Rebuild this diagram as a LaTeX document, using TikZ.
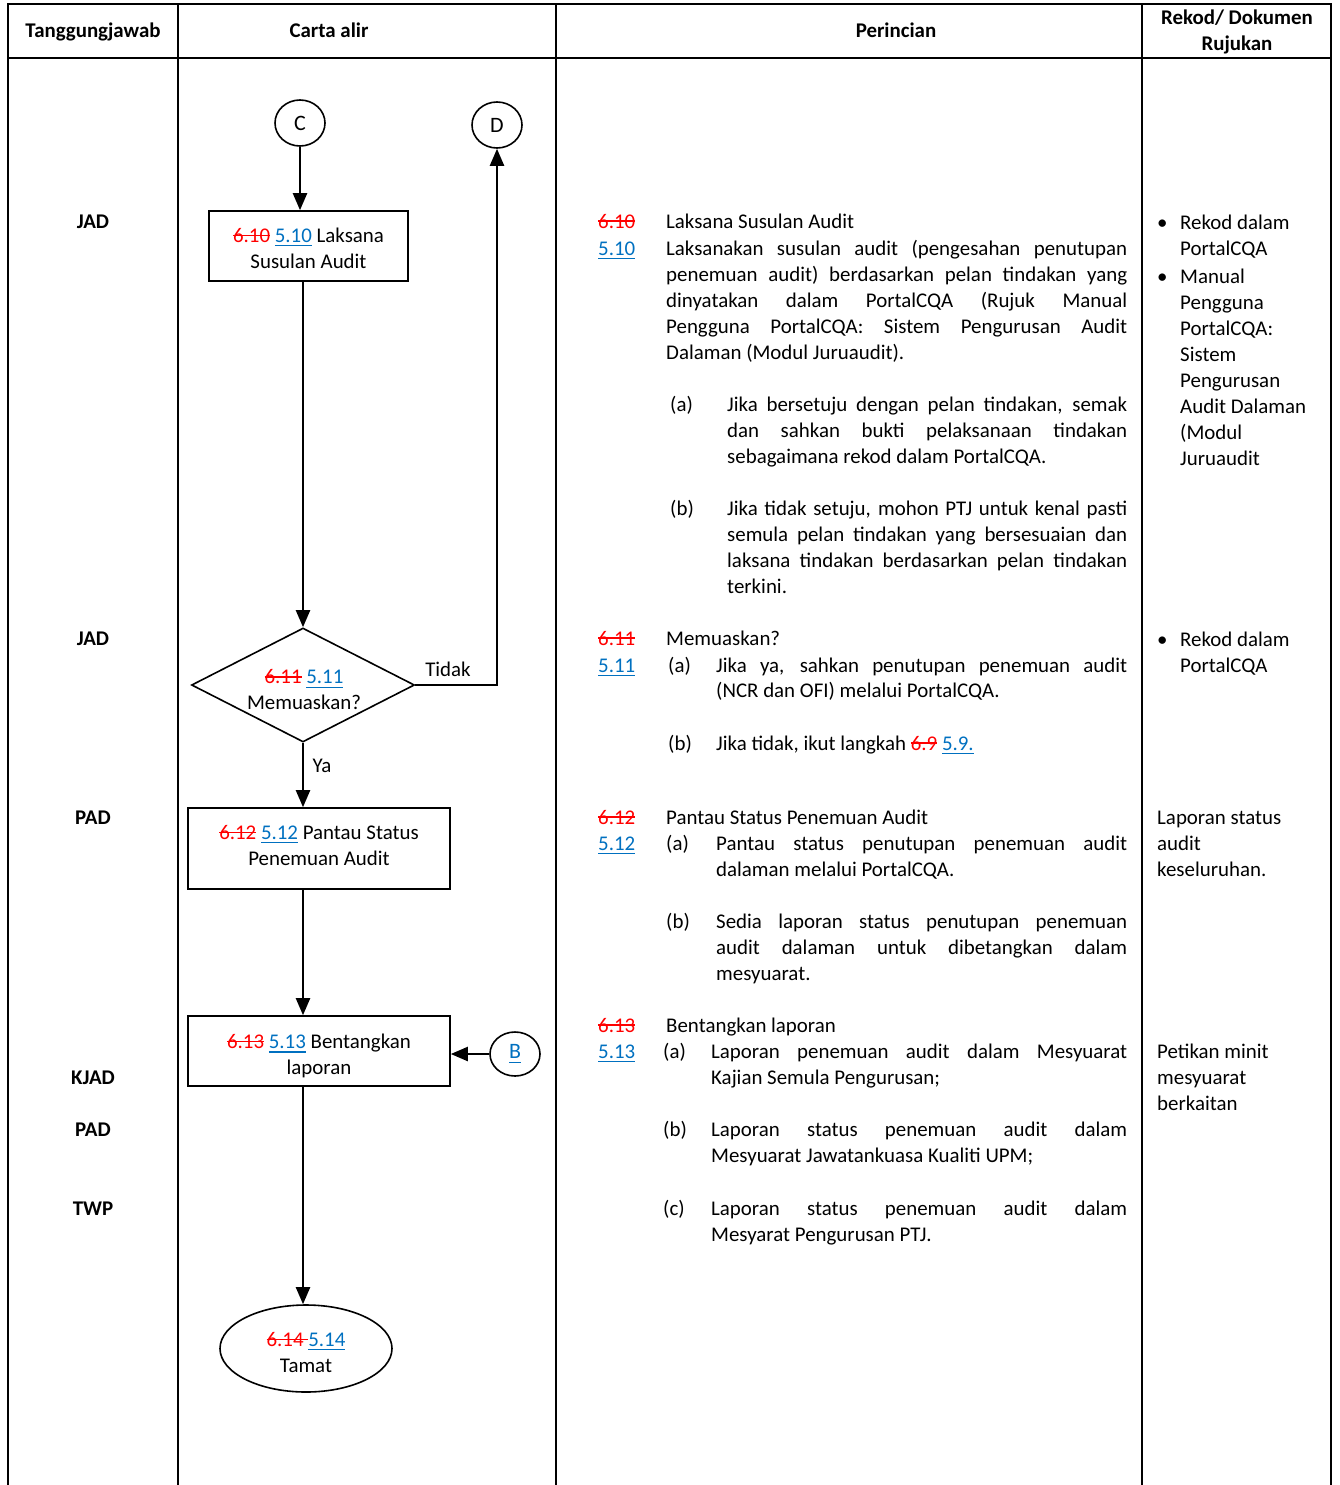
\documentclass[tikz,border=0pt]{standalone}
\usepackage{fontspec}
\setmainfont{Carlito}
\usetikzlibrary{shapes.geometric,arrows.meta}
\definecolor{strkred}{HTML}{FF0000}
\definecolor{lnkblue}{HTML}{0070C0}
\newcommand\odnum[1]{\textcolor{strkred}{\setbox0\hbox{#1}\rlap{\rule[0.3em]{\wd0}{1.4pt}}\box0}}
\newcommand\nwnum[1]{\textcolor{lnkblue}{\setbox0\hbox{#1}\rlap{\rule[-0.19em]{\wd0}{1.4pt}}\box0}}
\newcommand\TL[4]{\node[txt] (#1) at (#2,#3+7) {#4};}
\newcommand\JL[5]{\node[txt] (#1) at (#2,#3+7) {\makebox[#4pt][s]{#5}};}
\newcommand\HD[4]{\node[hd] (#1) at (#2,#3+7) {#4};}
\begin{document}
\begin{tikzpicture}[x=1pt,y=-1pt,
  every node/.style={font=\fontsize{20.9pt}{26pt}\selectfont},
  txt/.style={anchor=base west, inner sep=0pt},
  hd/.style={anchor=base, inner sep=0pt, font=\fontsize{20.9pt}{26pt}\selectfont\bfseries},
  fbox/.style={draw, line width=1.6pt, rectangle, inner sep=0pt},
  ftext/.style={align=center, inner sep=0pt},
  conn/.style={line width=2.2pt, -{Triangle[length=17pt,width=14pt]}},
  gridline/.style={line width=2pt}]
\useasboundingbox (0,0) rectangle (1339,1485);
% table grid
\draw[gridline] (8,1485) -- (8,4) -- (1331,4) -- (1331,1485);
\draw[gridline] (8,58) -- (1331,58);
\draw[gridline] (178,4) -- (178,1485);
\draw[gridline] (556,4) -- (556,1485);
\draw[gridline] (1142,4) -- (1142,1485);
% header
\HD{h1}{93}{31}{Tanggungjawab}
\HD{h2}{329}{31}{Carta alir}
\HD{h3}{896}{31}{Perincian}
\HD{h4}{1237}{18}{Rekod/ Dokumen}
\HD{h5}{1237}{44}{Rujukan}
% responsibility
\HD{r1}{93}{221}{JAD}
\HD{r2}{93}{638}{JAD}
\HD{r3}{93}{817}{PAD}
\HD{r4}{93}{1077}{KJAD}
\HD{r5}{93}{1129}{PAD}
\HD{r6}{93}{1208}{TWP}
% flowchart shapes
\node[draw, line width=1.6pt, ellipse, minimum width=50pt, minimum height=46pt, inner sep=0pt, font=\fontsize{22pt}{26pt}\selectfont] (C) at (300,123) {C};
\node[draw, line width=1.6pt, ellipse, minimum width=50pt, minimum height=46pt, inner sep=0pt, font=\fontsize{22pt}{26pt}\selectfont] (D) at (497,125) {D};
\node[fbox, minimum width=199pt, minimum height=70pt] (b510) at (308.5,246) {};
\node[ftext] (b510t) at (308.5,248) {\odnum{6.10} \nwnum{5.10} Laksana\\Susulan Audit};
\node[draw, line width=1.6pt, diamond, aspect=1.956, minimum width=223pt, minimum height=114pt, inner sep=0pt] (dia) at (303,685) {};
\node[ftext] (diat) at (304,690) {\odnum{6.11} \nwnum{5.11}\\Memuaskan?};
\node[fbox, minimum width=262pt, minimum height=81pt] (b512) at (319,848.5) {};
\node[ftext] (b512t) at (319,845.5) {\odnum{6.12} \nwnum{5.12} Pantau Status\\Penemuan Audit};
\node[fbox, minimum width=262pt, minimum height=70pt] (b513) at (319,1051) {};
\node[ftext] (b513t) at (319,1056) {\odnum{6.13} \nwnum{5.13} Bentangkan\\laporan};
\node[draw, line width=1.6pt, ellipse, minimum width=50pt, minimum height=44pt, inner sep=0pt, font=\fontsize{22pt}{26pt}\selectfont] (B) at (515,1054) {\nwnum{B}};
\node[draw, line width=1.6pt, ellipse, minimum width=172pt, minimum height=87pt, inner sep=0pt] (end) at (306,1348.5) {};
\node[ftext] (endt) at (306,1352.5) {\odnum{6.14 }\nwnum{5.14}\\Tamat};
% connectors
\draw[conn] (C.south) -- (C.south |- b510.north);
\draw[conn] (dia.north |- b510.south) -- (dia.north);
\draw[conn] (dia.east) -- (D.south |- dia.east) -- (D.south);
\node[inner sep=0pt] (tidak) at (448,669) {Tidak};
\draw[conn] (dia.south) -- (dia.south |- b512.north);
\node[inner sep=0pt] (ya) at (322,766) {Ya};
\draw[conn] (dia.south |- b512.south) -- (dia.south |- b513.north);
\draw[conn] (B.west) -- (B.west -| b513.east);
\draw[conn] (dia.south |- b513.south) -- (dia.south |- end.north);
% Perincian block 1
\TL{p1}{598}{221}{\odnum{6.10}}
\TL{p2}{666}{221}{Laksana Susulan Audit}
\TL{p3}{598}{248}{\nwnum{5.10}}
\JL{p4}{666}{248}{461}{Laksanakan susulan audit (pengesahan penutupan}
\JL{p5}{666}{274}{461}{penemuan audit) berdasarkan pelan tindakan yang}
\JL{p6}{666}{300}{461}{dinyatakan dalam PortalCQA (Rujuk Manual}
\JL{p7}{666}{326}{461}{Pengguna PortalCQA: Sistem Pengurusan Audit}
\TL{p8}{666}{352}{Dalaman (Modul Juruaudit).}
\TL{p9}{670}{404}{(a)}
\JL{p10}{727}{404}{400}{Jika bersetuju dengan pelan tindakan, semak}
\JL{p11}{727}{430}{400}{dan sahkan bukti pelaksanaan tindakan}
\TL{p12}{727}{456}{sebagaimana rekod dalam PortalCQA.}
\TL{p13}{670}{508}{(b)}
\JL{p14}{727}{508}{400}{Jika tidak setuju, mohon PTJ untuk kenal pasti}
\JL{p15}{727}{534}{400}{semula pelan tindakan yang bersesuaian dan}
\JL{p16}{727}{560}{400}{laksana tindakan berdasarkan pelan tindakan}
\TL{p17}{727}{586}{terkini.}
% block 2
\TL{q1}{598}{638}{\odnum{6.11}}
\TL{q2}{666}{638}{Memuaskan?}
\TL{q3}{598}{665}{\nwnum{5.11}}
\TL{q4}{668}{665}{(a)}
\JL{q5}{716}{665}{411}{Jika ya, sahkan penutupan penemuan audit}
\TL{q6}{716}{690}{(NCR dan OFI) melalui PortalCQA.}
\TL{q7}{668}{743}{(b)}
\TL{q8}{716}{743}{Jika tidak, ikut langkah \odnum{6.9} \nwnum{5.9.}}
% block 3
\TL{s1}{598}{817}{\odnum{6.12}}
\TL{s2}{666}{817}{Pantau Status Penemuan Audit}
\TL{s3}{598}{843}{\nwnum{5.12}}
\TL{s4}{666}{843}{(a)}
\JL{s5}{716}{843}{411}{Pantau status penutupan penemuan audit}
\TL{s6}{716}{869}{dalaman melalui PortalCQA.}
\TL{s7}{666}{921}{(b)}
\JL{s8}{716}{921}{411}{Sedia laporan status penutupan penemuan}
\JL{s9}{716}{947}{411}{audit dalaman untuk dibetangkan dalam}
\TL{s10}{716}{973}{mesyuarat.}
% block 4
\TL{u1}{598}{1025}{\odnum{6.13}}
\TL{u2}{666}{1025}{Bentangkan laporan}
\TL{u3}{598}{1051}{\nwnum{5.13}}
\TL{u4}{663}{1051}{(a)}
\JL{u5}{711}{1051}{416}{Laporan penemuan audit dalam Mesyuarat}
\TL{u6}{711}{1077}{Kajian Semula Pengurusan;}
\TL{u7}{663}{1129}{(b)}
\JL{u8}{711}{1129}{416}{Laporan status penemuan audit dalam}
\TL{u9}{711}{1155}{Mesyuarat Jawatankuasa Kualiti UPM;}
\TL{u10}{663}{1208}{(c)}
\JL{u11}{711}{1208}{416}{Laporan status penemuan audit dalam}
\TL{u12}{711}{1234}{Mesyarat Pengurusan PTJ.}
% Rekod column
\TL{k1}{1157}{222}{\textbullet}
\TL{k2}{1180}{222}{Rekod dalam}
\TL{k3}{1180}{248}{PortalCQA}
\TL{k4}{1157}{276}{\textbullet}
\TL{k5}{1180}{276}{Manual}
\TL{k6}{1180}{302}{Pengguna}
\TL{k7}{1180}{328}{PortalCQA:}
\TL{k8}{1180}{354}{Sistem}
\TL{k9}{1180}{380}{Pengurusan}
\TL{k10}{1180}{406}{Audit Dalaman}
\TL{k11}{1180}{432}{(Modul}
\TL{k12}{1180}{458}{Juruaudit}
\TL{k13}{1157}{639}{\textbullet}
\TL{k14}{1180}{639}{Rekod dalam}
\TL{k15}{1180}{665}{PortalCQA}
\TL{k16}{1157}{817}{Laporan status}
\TL{k17}{1157}{843}{audit}
\TL{k18}{1157}{869}{keseluruhan.}
\TL{k19}{1157}{1051}{Petikan minit}
\TL{k20}{1157}{1077}{mesyuarat}
\TL{k21}{1157}{1103}{berkaitan}
\end{tikzpicture}
\end{document}
